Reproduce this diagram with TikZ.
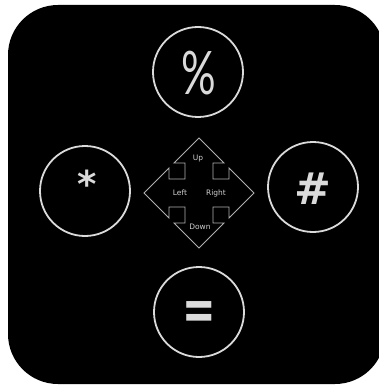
\documentclass[tikz,border=0pt]{standalone}
\usepackage{fontspec}
\setmainfont{DejaVu Sans}
\newfontfamily\symfont{Lato}
\newfontfamily\boldsym{DejaVu Sans}
\usepackage{graphicx}
\definecolor{ring}{HTML}{DADADA}
\definecolor{crossgray}{HTML}{B0B0B0}
\definecolor{labelgray}{HTML}{D0D0D0}
\tikzset{
  keyring/.style={circle, draw=ring, line width=1.8pt, minimum size=90pt, inner sep=0pt},
  symtext/.style={text=ring, inner sep=0pt},
  crossline/.style={draw=crossgray, line width=0.9pt, line join=miter},
  dirlabel/.style={text=labelgray, font=\fontsize{7.5}{8}\selectfont, inner sep=0pt}
}
\begin{document}
\begin{tikzpicture}[x=1pt, y=-1pt]
\useasboundingbox (0,0) rectangle (379,385);
\fill[white] (0,0) rectangle (379,385);
\fill[black, rounded corners=50pt] (8,5) rectangle (385,384);

% circles
\node[keyring] (top) at (198,72) {};
\node[keyring] (left) at (85,191) {};
\node[keyring] (right) at (313,187) {};
\node[keyring] (bottom) at (199,312) {};

% symbols
\node[symtext] (pct) at (199,73) {\scalebox{0.72}[1]{\symfont\fontsize{60}{60}\selectfont\%}};
\node[symtext] (ast) at (87,184) {\boldsym\bfseries\fontsize{37}{37}\selectfont *};
\node[symtext] (hash) at (313,189) {\boldsym\bfseries\fontsize{44}{44}\selectfont\#};
\node[symtext] (eq) at (199,316) {\scalebox{1}[1.45]{\boldsym\bfseries\fontsize{40}{40}\selectfont =}};

% four-way arrow
\coordinate (c) at (199,193);
\draw[crossline, shift={(c)}]
  (0,-55) -- (25,-30) -- (14,-30) -- (14,-14) -- (30,-14) -- (30,-25) -- (55,0)
  -- (30,25) -- (30,14) -- (14,14) -- (14,30) -- (25,30) -- (0,55)
  -- (-25,30) -- (-14,30) -- (-14,14) -- (-30,14) -- (-30,25) -- (-55,0)
  -- (-30,-25) -- (-30,-14) -- (-14,-14) -- (-14,-30) -- (-25,-30) -- cycle;

\node[dirlabel] (up) at (198,159) {Up};
\node[dirlabel] (lft) at (180,193) {Left};
\node[dirlabel] (rgt) at (216,193) {Right};
\node[dirlabel] (dwn) at (200,227) {Down};
\end{tikzpicture}
\end{document}
